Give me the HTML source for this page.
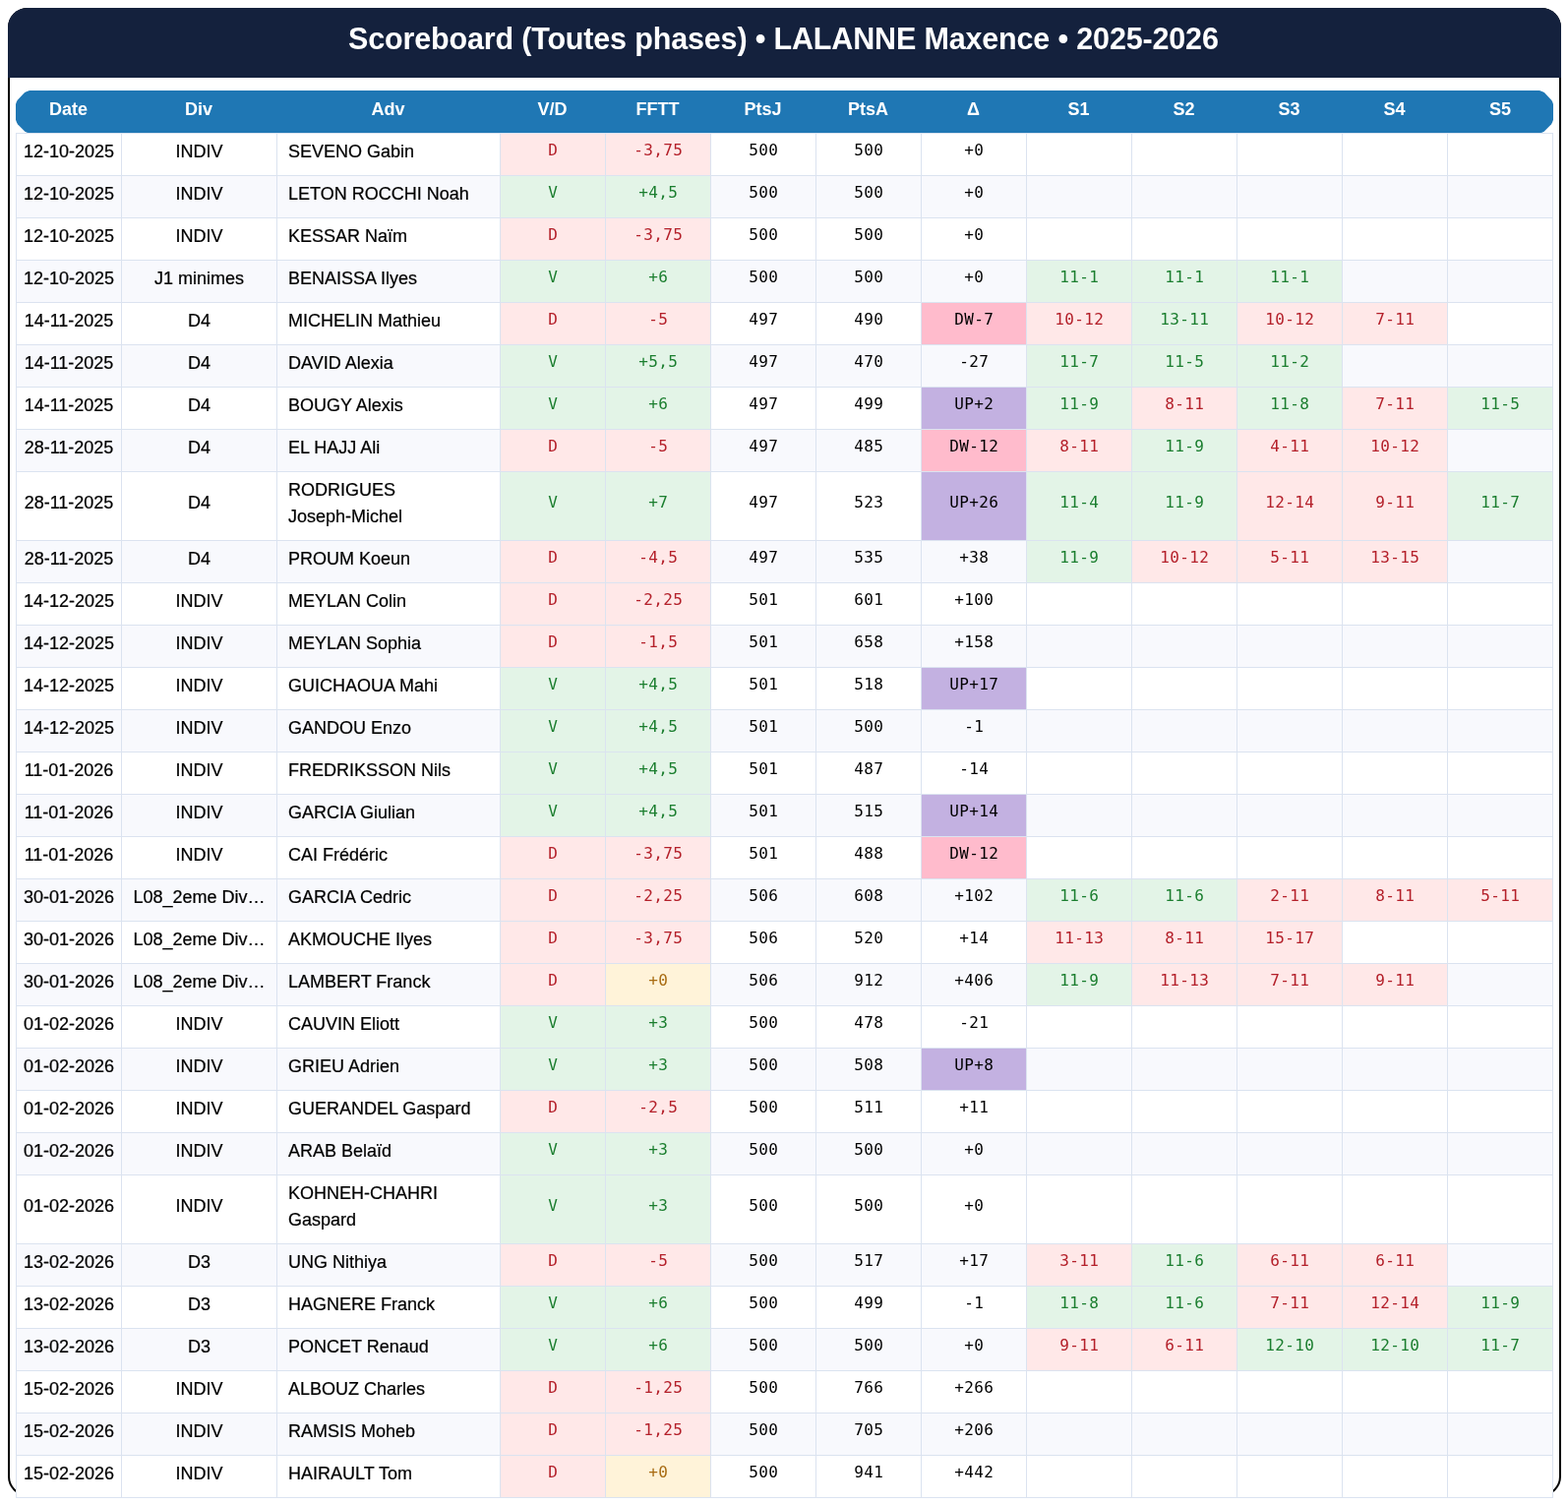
<!DOCTYPE html>
<html lang="fr">
<head>
<meta charset="utf-8">
<title>Scoreboard (Toutes phases) • LALANNE Maxence • 2025-2026</title>
<style>
html,body{margin:0;padding:0;background:#fff;}
body{width:1594px;height:1529px;overflow:hidden;position:relative;font-family:"Liberation Sans",Arial,Helvetica,sans-serif;font-size:18px;color:#000;}
.card{position:absolute;left:8px;top:8px;width:1579px;height:1513px;box-sizing:border-box;border:2px solid #000;border-radius:20px;background:#fff;}
.title{position:absolute;left:-2px;top:-2px;width:1579px;height:71px;background:#14213d;border-radius:20px 20px 0 0;color:#fff;font-weight:700;font-size:30.5px;line-height:34px;letter-spacing:-0.16px;text-align:center;white-space:nowrap;box-sizing:border-box;padding:14px 2.3px 0 0;}
table{position:absolute;left:6px;top:82px;width:1563px;border-collapse:separate;border-spacing:0;table-layout:fixed;background:#fff;}
col.c1{width:107px}col.c2{width:158px}col.c3{width:227px}col.cn{width:107px}col.cl{width:108px}
th{height:43px;box-sizing:border-box;padding:6px 0 0 0;background:#1f77b4;color:#fff;font-weight:700;font-size:18px;line-height:27px;text-align:center;vertical-align:top;}
th:first-child{clip-path:polygon(0px 14px,1px 11px,2.3px 9.2px,9.1px 2px,11.3px 1.1px,14px 0px,100% 0,100% 100%,13px 43px,11.3px 42.8px,9.1px 41.6px,2.1px 34.4px,1px 32.6px,0px 29.7px)}
th:last-child{clip-path:polygon(0 0,94px 0px,96.7px 1.1px,98.9px 2px,105.7px 9.2px,107px 11px,108px 14px,108px 29.7px,107px 32.6px,105.9px 34.4px,98.9px 41.6px,96.7px 42.8px,95px 43px,0 100%)}
td{height:43px;box-sizing:border-box;padding:5px 0 0 0;border-top:1px solid #dbe3f0;border-left:1px solid #dbe3f0;line-height:27px;text-align:center;vertical-align:top;white-space:nowrap;overflow:hidden;background:#fff;-webkit-text-stroke:0.22px currentColor;}
td:last-child{border-right:1px solid #dbe3f0}
tbody tr:last-child td{border-bottom:1px solid #dbe3f0;height:44px}
tbody tr:nth-child(even) td{background:#f8f9fd}
tr.dbl td{height:70px;padding-top:18px}
td.adv,tr.dbl td.adv{text-align:left;padding-left:11px;padding-top:5px}
td.m{font-family:"DejaVu Sans Mono","Liberation Mono",monospace;font-size:16px;letter-spacing:0.37px;padding-top:3px;padding-left:0.4px;padding-right:0;-webkit-text-stroke:0}
tr.dbl td.m{padding-top:17px}
tbody tr td.win{background:#e3f4e7;color:#1b7e2f}
tbody tr td.loss{background:#ffe8e8;color:#b4202a}
tbody tr td.zero{background:#fff3d9;color:#a86b12}
tbody tr td.up{background:#c3b1e1;color:#000}
tbody tr td.dw{background:#ffbbcc;color:#000}
</style>
</head>
<body>
<div class="card">
<div class="title"><span>Scoreboard (Toutes phases) • LALANNE Maxence • 2025-2026</span></div>
<table>
<colgroup><col class="c1"><col class="c2"><col class="c3"><col class="cn"><col class="cn"><col class="cn"><col class="cn"><col class="cn"><col class="cn"><col class="cn"><col class="cn"><col class="cn"><col class="cl"></colgroup>
<thead><tr><th>Date</th><th>Div</th><th>Adv</th><th>V/D</th><th>FFTT</th><th>PtsJ</th><th>PtsA</th><th>Δ</th><th>S1</th><th>S2</th><th>S3</th><th>S4</th><th>S5</th></tr></thead>
<tbody>
<tr><td class="date">12-10-2025</td><td class="div">INDIV</td><td class="adv">SEVENO Gabin</td><td class="m loss">D</td><td class="m loss">-3,75</td><td class="m">500</td><td class="m">500</td><td class="m">+0</td><td></td><td></td><td></td><td></td><td></td></tr>
<tr><td class="date">12-10-2025</td><td class="div">INDIV</td><td class="adv">LETON ROCCHI Noah</td><td class="m win">V</td><td class="m win">+4,5</td><td class="m">500</td><td class="m">500</td><td class="m">+0</td><td></td><td></td><td></td><td></td><td></td></tr>
<tr><td class="date">12-10-2025</td><td class="div">INDIV</td><td class="adv">KESSAR Naïm</td><td class="m loss">D</td><td class="m loss">-3,75</td><td class="m">500</td><td class="m">500</td><td class="m">+0</td><td></td><td></td><td></td><td></td><td></td></tr>
<tr><td class="date">12-10-2025</td><td class="div">J1 minimes</td><td class="adv">BENAISSA Ilyes</td><td class="m win">V</td><td class="m win">+6</td><td class="m">500</td><td class="m">500</td><td class="m">+0</td><td class="m win">11-1</td><td class="m win">11-1</td><td class="m win">11-1</td><td></td><td></td></tr>
<tr><td class="date">14-11-2025</td><td class="div">D4</td><td class="adv">MICHELIN Mathieu</td><td class="m loss">D</td><td class="m loss">-5</td><td class="m">497</td><td class="m">490</td><td class="m dw">DW-7</td><td class="m loss">10-12</td><td class="m win">13-11</td><td class="m loss">10-12</td><td class="m loss">7-11</td><td></td></tr>
<tr><td class="date">14-11-2025</td><td class="div">D4</td><td class="adv">DAVID Alexia</td><td class="m win">V</td><td class="m win">+5,5</td><td class="m">497</td><td class="m">470</td><td class="m">-27</td><td class="m win">11-7</td><td class="m win">11-5</td><td class="m win">11-2</td><td></td><td></td></tr>
<tr><td class="date">14-11-2025</td><td class="div">D4</td><td class="adv">BOUGY Alexis</td><td class="m win">V</td><td class="m win">+6</td><td class="m">497</td><td class="m">499</td><td class="m up">UP+2</td><td class="m win">11-9</td><td class="m loss">8-11</td><td class="m win">11-8</td><td class="m loss">7-11</td><td class="m win">11-5</td></tr>
<tr><td class="date">28-11-2025</td><td class="div">D4</td><td class="adv">EL HAJJ Ali</td><td class="m loss">D</td><td class="m loss">-5</td><td class="m">497</td><td class="m">485</td><td class="m dw">DW-12</td><td class="m loss">8-11</td><td class="m win">11-9</td><td class="m loss">4-11</td><td class="m loss">10-12</td><td></td></tr>
<tr class="dbl"><td class="date">28-11-2025</td><td class="div">D4</td><td class="adv">RODRIGUES<br>Joseph-Michel</td><td class="m win">V</td><td class="m win">+7</td><td class="m">497</td><td class="m">523</td><td class="m up">UP+26</td><td class="m win">11-4</td><td class="m win">11-9</td><td class="m loss">12-14</td><td class="m loss">9-11</td><td class="m win">11-7</td></tr>
<tr><td class="date">28-11-2025</td><td class="div">D4</td><td class="adv">PROUM Koeun</td><td class="m loss">D</td><td class="m loss">-4,5</td><td class="m">497</td><td class="m">535</td><td class="m">+38</td><td class="m win">11-9</td><td class="m loss">10-12</td><td class="m loss">5-11</td><td class="m loss">13-15</td><td></td></tr>
<tr><td class="date">14-12-2025</td><td class="div">INDIV</td><td class="adv">MEYLAN Colin</td><td class="m loss">D</td><td class="m loss">-2,25</td><td class="m">501</td><td class="m">601</td><td class="m">+100</td><td></td><td></td><td></td><td></td><td></td></tr>
<tr><td class="date">14-12-2025</td><td class="div">INDIV</td><td class="adv">MEYLAN Sophia</td><td class="m loss">D</td><td class="m loss">-1,5</td><td class="m">501</td><td class="m">658</td><td class="m">+158</td><td></td><td></td><td></td><td></td><td></td></tr>
<tr><td class="date">14-12-2025</td><td class="div">INDIV</td><td class="adv">GUICHAOUA Mahi</td><td class="m win">V</td><td class="m win">+4,5</td><td class="m">501</td><td class="m">518</td><td class="m up">UP+17</td><td></td><td></td><td></td><td></td><td></td></tr>
<tr><td class="date">14-12-2025</td><td class="div">INDIV</td><td class="adv">GANDOU Enzo</td><td class="m win">V</td><td class="m win">+4,5</td><td class="m">501</td><td class="m">500</td><td class="m">-1</td><td></td><td></td><td></td><td></td><td></td></tr>
<tr><td class="date">11-01-2026</td><td class="div">INDIV</td><td class="adv">FREDRIKSSON Nils</td><td class="m win">V</td><td class="m win">+4,5</td><td class="m">501</td><td class="m">487</td><td class="m">-14</td><td></td><td></td><td></td><td></td><td></td></tr>
<tr><td class="date">11-01-2026</td><td class="div">INDIV</td><td class="adv">GARCIA Giulian</td><td class="m win">V</td><td class="m win">+4,5</td><td class="m">501</td><td class="m">515</td><td class="m up">UP+14</td><td></td><td></td><td></td><td></td><td></td></tr>
<tr><td class="date">11-01-2026</td><td class="div">INDIV</td><td class="adv">CAI Frédéric</td><td class="m loss">D</td><td class="m loss">-3,75</td><td class="m">501</td><td class="m">488</td><td class="m dw">DW-12</td><td></td><td></td><td></td><td></td><td></td></tr>
<tr><td class="date">30-01-2026</td><td class="div">L08_2eme Div…</td><td class="adv">GARCIA Cedric</td><td class="m loss">D</td><td class="m loss">-2,25</td><td class="m">506</td><td class="m">608</td><td class="m">+102</td><td class="m win">11-6</td><td class="m win">11-6</td><td class="m loss">2-11</td><td class="m loss">8-11</td><td class="m loss">5-11</td></tr>
<tr><td class="date">30-01-2026</td><td class="div">L08_2eme Div…</td><td class="adv">AKMOUCHE Ilyes</td><td class="m loss">D</td><td class="m loss">-3,75</td><td class="m">506</td><td class="m">520</td><td class="m">+14</td><td class="m loss">11-13</td><td class="m loss">8-11</td><td class="m loss">15-17</td><td></td><td></td></tr>
<tr><td class="date">30-01-2026</td><td class="div">L08_2eme Div…</td><td class="adv">LAMBERT Franck</td><td class="m loss">D</td><td class="m zero">+0</td><td class="m">506</td><td class="m">912</td><td class="m">+406</td><td class="m win">11-9</td><td class="m loss">11-13</td><td class="m loss">7-11</td><td class="m loss">9-11</td><td></td></tr>
<tr><td class="date">01-02-2026</td><td class="div">INDIV</td><td class="adv">CAUVIN Eliott</td><td class="m win">V</td><td class="m win">+3</td><td class="m">500</td><td class="m">478</td><td class="m">-21</td><td></td><td></td><td></td><td></td><td></td></tr>
<tr><td class="date">01-02-2026</td><td class="div">INDIV</td><td class="adv">GRIEU Adrien</td><td class="m win">V</td><td class="m win">+3</td><td class="m">500</td><td class="m">508</td><td class="m up">UP+8</td><td></td><td></td><td></td><td></td><td></td></tr>
<tr><td class="date">01-02-2026</td><td class="div">INDIV</td><td class="adv">GUERANDEL Gaspard</td><td class="m loss">D</td><td class="m loss">-2,5</td><td class="m">500</td><td class="m">511</td><td class="m">+11</td><td></td><td></td><td></td><td></td><td></td></tr>
<tr><td class="date">01-02-2026</td><td class="div">INDIV</td><td class="adv">ARAB Belaïd</td><td class="m win">V</td><td class="m win">+3</td><td class="m">500</td><td class="m">500</td><td class="m">+0</td><td></td><td></td><td></td><td></td><td></td></tr>
<tr class="dbl"><td class="date">01-02-2026</td><td class="div">INDIV</td><td class="adv">KOHNEH-CHAHRI<br>Gaspard</td><td class="m win">V</td><td class="m win">+3</td><td class="m">500</td><td class="m">500</td><td class="m">+0</td><td></td><td></td><td></td><td></td><td></td></tr>
<tr><td class="date">13-02-2026</td><td class="div">D3</td><td class="adv">UNG Nithiya</td><td class="m loss">D</td><td class="m loss">-5</td><td class="m">500</td><td class="m">517</td><td class="m">+17</td><td class="m loss">3-11</td><td class="m win">11-6</td><td class="m loss">6-11</td><td class="m loss">6-11</td><td></td></tr>
<tr><td class="date">13-02-2026</td><td class="div">D3</td><td class="adv">HAGNERE Franck</td><td class="m win">V</td><td class="m win">+6</td><td class="m">500</td><td class="m">499</td><td class="m">-1</td><td class="m win">11-8</td><td class="m win">11-6</td><td class="m loss">7-11</td><td class="m loss">12-14</td><td class="m win">11-9</td></tr>
<tr><td class="date">13-02-2026</td><td class="div">D3</td><td class="adv">PONCET Renaud</td><td class="m win">V</td><td class="m win">+6</td><td class="m">500</td><td class="m">500</td><td class="m">+0</td><td class="m loss">9-11</td><td class="m loss">6-11</td><td class="m win">12-10</td><td class="m win">12-10</td><td class="m win">11-7</td></tr>
<tr><td class="date">15-02-2026</td><td class="div">INDIV</td><td class="adv">ALBOUZ Charles</td><td class="m loss">D</td><td class="m loss">-1,25</td><td class="m">500</td><td class="m">766</td><td class="m">+266</td><td></td><td></td><td></td><td></td><td></td></tr>
<tr><td class="date">15-02-2026</td><td class="div">INDIV</td><td class="adv">RAMSIS Moheb</td><td class="m loss">D</td><td class="m loss">-1,25</td><td class="m">500</td><td class="m">705</td><td class="m">+206</td><td></td><td></td><td></td><td></td><td></td></tr>
<tr><td class="date">15-02-2026</td><td class="div">INDIV</td><td class="adv">HAIRAULT Tom</td><td class="m loss">D</td><td class="m zero">+0</td><td class="m">500</td><td class="m">941</td><td class="m">+442</td><td></td><td></td><td></td><td></td><td></td></tr>
</tbody>
</table>
</div>
</body>
</html>
